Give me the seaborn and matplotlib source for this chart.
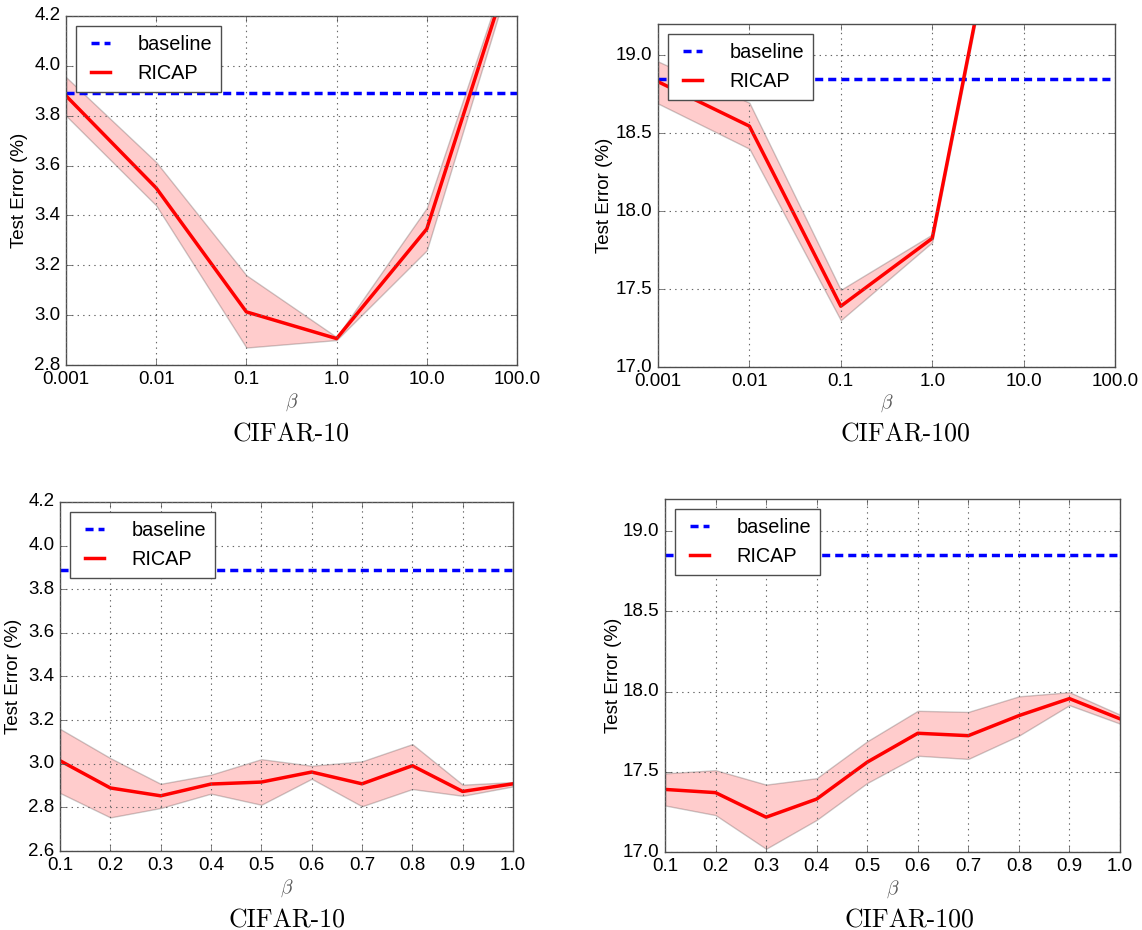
import numpy as np
import pandas as pd
import matplotlib
matplotlib.use('Agg')
import matplotlib.pyplot as plt
from matplotlib.ticker import FixedLocator, FixedFormatter, FormatStrFormatter, NullLocator
import seaborn as sns

# ---- data ----
beta_log = [0.001, 0.01, 0.1, 1.0, 10.0, 100.0]
beta_lin = [0.1, 0.2, 0.3, 0.4, 0.5, 0.6, 0.7, 0.8, 0.9, 1.0]

base_c10 = 3.89
base_c100 = 18.85

# CIFAR-10, beta on log scale
c10_log_mean = [3.88, 3.51, 3.013, 2.906, 3.346, 4.475]
c10_log_low = [3.80, 3.44, 2.87, 2.900, 3.26, 4.445]
c10_log_high = [3.955, 3.614, 3.16, 2.912, 3.43, 4.505]

# CIFAR-100, beta on log scale (last visible point leaves the top)
beta_log_c100 = [0.001, 0.01, 0.1, 1.0, 10.0]
c100_log_mean = [18.83, 18.545, 17.39, 17.825, 20.8]
c100_log_low = [18.69, 18.40, 17.30, 17.80, 20.77]
c100_log_high = [18.96, 18.695, 17.495, 17.85, 20.83]

# CIFAR-10, beta linear
c10_lin_mean = [3.014, 2.889, 2.853, 2.907, 2.916, 2.962, 2.908, 2.991, 2.873, 2.908]
c10_lin_low = [2.866, 2.754, 2.797, 2.863, 2.812, 2.931, 2.805, 2.884, 2.853, 2.896]
c10_lin_high = [3.16, 3.026, 2.908, 2.95, 3.021, 2.991, 3.011, 3.09, 2.904, 2.916]

# CIFAR-100, beta linear
c100_lin_mean = [17.39, 17.37, 17.217, 17.33, 17.56, 17.74, 17.725, 17.85, 17.956, 17.83]
c100_lin_low = [17.29, 17.23, 17.02, 17.20, 17.43, 17.60, 17.58, 17.725, 17.915, 17.80]
c100_lin_high = [17.49, 17.51, 17.42, 17.46, 17.69, 17.88, 17.873, 17.97, 17.996, 17.856]

log_ticklabels = ['0.001', '0.01', '0.1', '1.0', '10.0', '100.0']
lin_ticklabels = ['0.1', '0.2', '0.3', '0.4', '0.5', '0.6', '0.7', '0.8', '0.9', '1.0']

plt.style.use('classic')
plt.rcParams['font.family'] = ['Liberation Sans', 'DejaVu Sans']
plt.rcParams['figure.facecolor'] = 'white'
plt.rcParams['savefig.facecolor'] = 'white'
plt.rcParams['axes.edgecolor'] = '0.3'
plt.rcParams['xtick.color'] = '0.3'
plt.rcParams['ytick.color'] = '0.3'
plt.rcParams['xtick.labelcolor'] = 'black'
plt.rcParams['ytick.labelcolor'] = 'black'

W, H = 1142, 930
fig = plt.figure(figsize=(W / 100, H / 100), dpi=100)


def px_axes(l, t, r, b):
    return fig.add_axes([l / W, 1 - b / H, (r - l) / W, (b - t) / H])


def draw_panel(ax, x, mean, low, high, base, xlim, ylim, yticks, log):
    # baseline across the whole axis
    sns.lineplot(x=list(xlim), y=[base, base], ax=ax, color='blue', lw=2.5,
                 linestyle=(0, (5.8, 3.6)), label='baseline')
    ax.fill_between(x, low, high, color='red', alpha=0.2, edgecolor='black', lw=1)
    sns.lineplot(x=x, y=mean, ax=ax, color='red', lw=2.5, label='RICAP')
    if log:
        ax.set_xscale('log')
        ax.xaxis.set_major_locator(FixedLocator(beta_log))
        ax.xaxis.set_major_formatter(FixedFormatter(log_ticklabels))
        ax.xaxis.set_minor_locator(NullLocator())
    else:
        ax.xaxis.set_major_locator(FixedLocator(beta_lin))
        ax.xaxis.set_major_formatter(FixedFormatter(lin_ticklabels))
    ax.set_xlim(*xlim)
    ax.set_ylim(*ylim)
    ax.set_yticks(yticks)
    ax.yaxis.set_major_formatter(FormatStrFormatter('%.1f'))
    ax.tick_params(labelsize=13.5)
    ax.grid(True, color='0.4', linestyle=':', lw=0.8)
    ax.set_xlabel(r'$\beta$', fontsize=14, color='0.35')
    ax.xaxis.set_label_coords(0.5, -0.075)
    ax.set_ylabel('Test Error (%)', fontsize=13.5)
    ax.legend(loc='upper left', fontsize=14.3, frameon=True, fancybox=False,
              borderpad=0.45, handlelength=1.55, handletextpad=1.1,
              labelspacing=0.5, borderaxespad=0.5, numpoints=2)


ax1 = px_axes(66, 16, 517, 365)
draw_panel(ax1, beta_log, c10_log_mean, c10_log_low, c10_log_high, base_c10,
           (0.001, 100.0), (2.8, 4.2), np.arange(2.8, 4.21, 0.2), True)
ax1.yaxis.set_label_coords(-0.084, 0.5)

ax2 = px_axes(658, 24, 1115, 367)
draw_panel(ax2, beta_log_c100, c100_log_mean, c100_log_low, c100_log_high, base_c100,
           (0.001, 100.0), (17.0, 19.2), np.arange(17.0, 19.01, 0.5), True)
ax2.yaxis.set_label_coords(-0.098, 0.5)

ax3 = px_axes(60, 502, 513, 851)
draw_panel(ax3, beta_lin, c10_lin_mean, c10_lin_low, c10_lin_high, base_c10,
           (0.1, 1.0), (2.6, 4.2), np.arange(2.6, 4.21, 0.2), False)
ax3.yaxis.set_label_coords(-0.084, 0.5)

ax4 = px_axes(665, 499, 1120, 852)
draw_panel(ax4, beta_lin, c100_lin_mean, c100_lin_low, c100_lin_high, base_c100,
           (0.1, 1.0), (17.0, 19.2), np.arange(17.0, 19.01, 0.5), False)
ax4.yaxis.set_label_coords(-0.095, 0.5)

# dataset captions under each panel
for xc, yb, txt in [(291, 441, 'CIFAR-10'), (905, 441, 'CIFAR-100'),
                    (287, 927, 'CIFAR-10'), (909, 927, 'CIFAR-100')]:
    fig.text(xc / W, 1 - yb / H, txt, ha='center', va='baseline',
             fontsize=18.5, family='cmr10')

fig.savefig('out.png', dpi=100)
